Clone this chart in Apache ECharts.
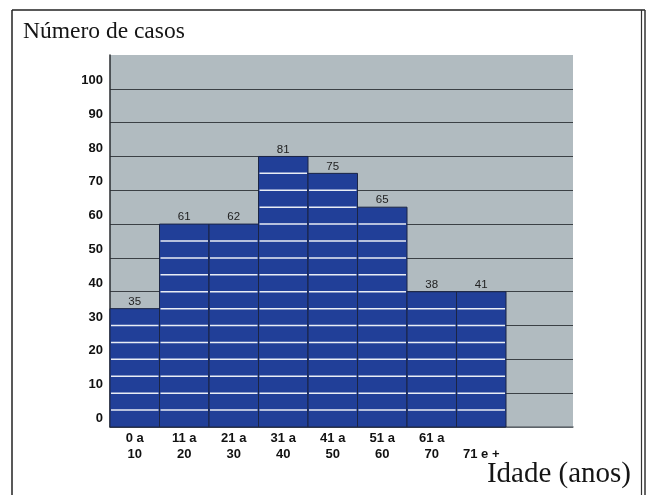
<!DOCTYPE html>
<html>
<head>
<meta charset="utf-8">
<script src="https://cdn.jsdelivr.net/npm/echarts@6/dist/echarts.min.js"></script>
<style>
  html, body { margin: 0; padding: 0; background: #fff; }
  #chart { width: 649px; height: 495px; }
</style>
</head>
<body>
<div id="chart"></div>
<script>
// age groups on the x axis
var ageGroups = ['0 a\n10', '11 a\n20', '21 a\n30', '31 a\n40', '41 a\n50', '51 a\n60', '61 a\n70', '\n71 e +']
// bar heights as drawn
var barHeights = [35, 60, 60, 80, 75, 65, 40, 40]
// numbers written above the bars
var caseLabels = [35, 61, 62, 81, 75, 65, 38, 41]

var chart = echarts.init(document.getElementById('chart'))

var barData = barHeights.map(function(v, i) {
  return [i, v, caseLabels[i]]
})

function renderBar(params, api) {
  var i = api.value(0)
  var v = api.value(1)
  var top = api.coord([i, v])
  var base = api.coord([i, 0])
  var w = api.size([1, 0])[0]
  var x0 = top[0] - w / 2
  var children = [{
    type: 'rect',
    shape: { x: x0, y: top[1], width: w, height: base[1] - top[1] },
    style: { fill: '#213f98', stroke: '#1b2545', lineWidth: 1 }
  }]
  // white stripes every 5 cases
  for (var k = 5; k < v; k += 5) {
    var y = api.coord([i, k])[1]
    children.push({
      type: 'line',
      shape: { x1: x0 + 1, y1: y, x2: x0 + w - 1, y2: y },
      style: { stroke: '#e9edf5', lineWidth: 1.5 }
    })
  }
  children.push({
    type: 'text',
    style: {
      text: String(api.value(2)),
      x: top[0], y: top[1] - 7,
      align: 'center', verticalAlign: 'middle',
      font: '11.5px "Liberation Sans", Arial, sans-serif',
      fill: '#222'
    }
  })
  return { type: 'group', children: children }
}

var yAxisBase = {
  type: 'value',
  min: 0,
  max: 110,
  interval: 10,
  axisTick: { show: false },
  splitLine: {
    show: true,
    showMaxLine: false,
    lineStyle: { color: '#3b4045', width: 1 }
  }
}

chart.setOption({
  backgroundColor: '#ffffff',
  animation: false,
  title: [{
    text: 'Número de casos',
    left: 23,
    top: 20,
    padding: 0,
    textStyle: {
      fontFamily: '"Liberation Serif", "DejaVu Serif", serif',
      fontWeight: 'normal',
      fontSize: 23.5,
      color: '#151515'
    }
  }, {
    text: 'Idade (anos)',
    right: 18,
    top: 460,
    padding: 0,
    textStyle: {
      fontFamily: '"Liberation Serif", "DejaVu Serif", serif',
      fontWeight: 'normal',
      fontSize: 29,
      color: '#151515'
    }
  }],
  grid: [{
    left: 110,
    right: 143,
    top: 55,
    bottom: 68,
    show: true,
    backgroundColor: '#b1bbc0',
    borderWidth: 0
  }, {
    left: 506,
    right: 76,
    top: 55,
    bottom: 68,
    show: true,
    backgroundColor: '#b1bbc0',
    borderWidth: 0
  }],
  xAxis: [{
    type: 'category',
    gridIndex: 0,
    data: ageGroups,
    boundaryGap: true,
    axisTick: { show: false },
    axisLine: { lineStyle: { color: '#4a4f55', width: 1.5 } },
    axisLabel: {
      interval: 0,
      margin: 3,
      color: '#111',
      fontFamily: '"Liberation Sans", Arial, sans-serif',
      fontWeight: 'bold',
      fontSize: 13,
      lineHeight: 16
    }
  }, {
    type: 'category',
    gridIndex: 1,
    data: [''],
    axisTick: { show: false },
    axisLabel: { show: false },
    axisLine: { lineStyle: { color: '#6a7075', width: 1.5 } }
  }],
  yAxis: [Object.assign({}, yAxisBase, {
    gridIndex: 0,
    axisLine: { show: true, lineStyle: { color: '#2a2d30', width: 1.5 } },
    axisLabel: {
      showMaxLabel: false,
      margin: 7,
      color: '#111',
      fontFamily: '"Liberation Sans", Arial, sans-serif',
      fontWeight: 'bold',
      fontSize: 13,
      verticalAlign: 'bottom',
      padding: [0, 0, 2, 0]
    }
  }), Object.assign({}, yAxisBase, {
    gridIndex: 1,
    axisLine: { show: false },
    axisLabel: { show: false }
  })],
  series: [{
    type: 'custom',
    xAxisIndex: 0,
    yAxisIndex: 0,
    renderItem: renderBar,
    data: barData,
    z: 3
  }],
  graphic: [{
    type: 'line',
    shape: { x1: 12, y1: 10, x2: 645, y2: 10 },
    style: { stroke: '#222', lineWidth: 1.5 }
  }, {
    type: 'line',
    shape: { x1: 12, y1: 10, x2: 12, y2: 495 },
    style: { stroke: '#222', lineWidth: 1.5 }
  }, {
    type: 'line',
    shape: { x1: 641.5, y1: 10, x2: 641.5, y2: 495 },
    style: { stroke: '#333', lineWidth: 1.2 }
  }, {
    type: 'line',
    shape: { x1: 645, y1: 10, x2: 645, y2: 495 },
    style: { stroke: '#333', lineWidth: 1.5 }
  }]
})
</script>
</body>
</html>
